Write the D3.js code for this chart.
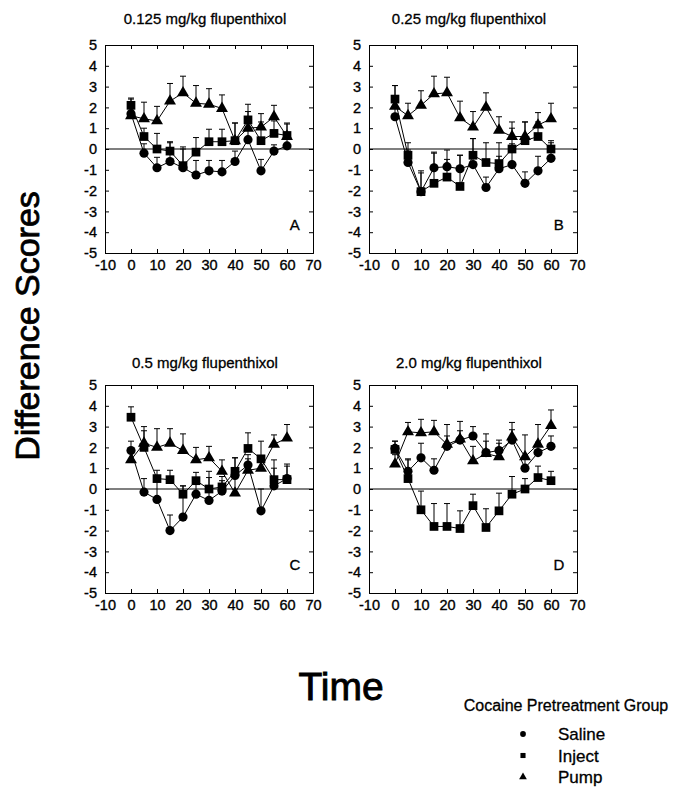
<!DOCTYPE html>
<meta charset="utf-8">
<style>
body { margin: 0; background: #fff; }
svg text { font-family: "Liberation Sans", Arial, sans-serif; fill: #000; }
.axis path, .axis line { stroke: #000; stroke-width: 1px; }
.axis text { font-size: 14.5px; stroke: #000; stroke-width: 0.35px; }
.series path.line { fill: none; stroke: #000; stroke-width: 1px; }
.err { stroke: #000; stroke-width: 1px; }
.heavy { stroke: #000; stroke-width: 0.3px; }
</style>
<body>
<svg width="686" height="793"></svg>
<script src="https://cdn.jsdelivr.net/npm/d3@7"></script>
<script>

// time points (min)
let times = [0, 5, 10, 15, 20, 25, 30, 35, 40, 45, 50, 55, 60];
let xTicks = [-10, 0, 10, 20, 30, 40, 50, 60, 70];
let yTicks = [-5, -4, -3, -2, -1, 0, 1, 2, 3, 4, 5];

let panelTitles = ["0.125 mg/kg flupenthixol", "0.25 mg/kg flupenthixol",
                   "0.5 mg/kg flupenthixol", "2.0 mg/kg flupenthixol"];
let panelLetters = ["A", "B", "C", "D"];
let groupNames = ["Saline", "Inject", "Pump"];

// panel A
let salineA = [1.7, -0.2, -0.9, -0.6, -0.9, -1.25, -1.05, -1.1, -0.6, 0.45, -1.05, -0.1, 0.15];
let salineErrA = [0.3, 0.45, 0.5, 0.9, 0.9, 0.7, 0.5, 0.55, 0.5, 0.5, 0.55, 0.3, 0.6];
let injectA = [2.1, 0.6, 0.0, -0.1, -0.8, -0.15, 0.35, 0.35, 0.4, 1.4, 0.4, 0.75, 0.65];
let injectErrA = [0.35, 0.4, 0.75, 0.45, 0.9, 0.7, 0.6, 0.6, 0.85, 0.75, 0.9, 0.6, 0.6];
let pumpA = [1.6, 1.45, 1.35, 2.3, 2.7, 2.2, 2.15, 1.95, 0.4, 1.0, 1.05, 1.55, 0.6];
let pumpErrA = [0.8, 0.8, 0.7, 0.85, 0.8, 0.85, 0.75, 0.65, 0.85, 0.8, 0.65, 0.55, 0.6];

// panel B
let salineB = [1.55, -0.65, -2.05, -0.9, -0.85, -0.95, -0.75, -1.85, -0.95, -0.75, -1.65, -1.05, -0.45];
let salineErrB = [0.5, 0.6, 1.0, 0.75, 0.8, 0.65, 1.25, 0.5, 0.6, 1.0, 0.55, 0.7, 0.75];
let injectB = [2.4, -0.3, -2.05, -1.65, -1.35, -1.8, -0.3, -0.65, -0.7, 0.0, 0.4, 0.6, 0.0];
let injectErrB = [0.65, 0.6, 0.9, 1.45, 0.85, 1.5, 0.8, 0.95, 1.0, 1.0, 0.9, 0.7, 0.4];
let pumpB = [2.05, 1.6, 2.1, 2.65, 2.7, 1.5, 1.05, 2.0, 0.9, 0.6, 0.6, 1.15, 1.45];
let pumpErrB = [1.0, 0.6, 0.7, 0.85, 0.75, 0.8, 0.75, 0.7, 0.65, 0.7, 0.7, 0.6, 0.75];

// panel C
let salineC = [1.85, -0.15, -0.5, -2.0, -1.35, -0.25, -0.55, -0.1, 0.65, 1.15, -1.05, 0.15, 0.5];
let salineErrC = [0.45, 0.65, 0.9, 0.75, 1.5, 0.65, 1.1, 0.5, 0.85, 0.5, 1.05, 0.85, 0.6];
let injectC = [3.45, 2.0, 0.5, 0.45, -0.25, 0.4, 0.0, 0.1, 0.85, 1.95, 1.45, 0.45, 0.45];
let injectErrC = [0.5, 0.8, 0.4, 0.45, 0.4, 0.4, 0.85, 0.5, 0.65, 0.75, 0.85, 0.95, 0.75];
let pumpC = [1.4, 2.2, 2.0, 2.2, 1.85, 1.4, 1.5, 0.85, -0.2, 0.9, 1.0, 2.15, 2.45];
let pumpErrC = [0.4, 0.8, 0.9, 0.7, 0.8, 0.6, 0.55, 0.55, 0.7, 0.55, 0.6, 0.45, 0.65];

// panel D
let salineD = [1.95, 0.85, 1.5, 0.9, 2.05, 2.35, 2.55, 1.75, 1.85, 2.35, 1.0, 1.75, 2.05];
let salineErrD = [0.35, 0.6, 0.7, 0.55, 0.5, 0.45, 0.45, 0.55, 0.5, 0.5, 0.6, 0.5, 0.5];
let injectD = [1.9, 0.5, -1.0, -1.8, -1.8, -1.9, -0.8, -1.85, -1.05, -0.25, 0.0, 0.55, 0.4];
let injectErrD = [0.4, 0.9, 0.9, 1.1, 1.1, 0.85, 0.55, 0.9, 0.85, 0.85, 0.5, 0.55, 0.45];
let pumpD = [1.2, 2.75, 2.7, 2.75, 2.15, 2.4, 1.35, 1.7, 1.55, 2.5, 1.55, 2.15, 3.05];
let pumpErrD = [0.45, 0.45, 0.65, 0.55, 0.95, 0.85, 0.7, 0.95, 0.65, 0.7, 1.05, 0.95, 0.75];

let panels = [
  [[salineA, salineErrA], [injectA, injectErrA], [pumpA, pumpErrA]],
  [[salineB, salineErrB], [injectB, injectErrB], [pumpB, pumpErrB]],
  [[salineC, salineErrC], [injectC, injectErrC], [pumpC, pumpErrC]],
  [[salineD, salineErrD], [injectD, injectErrD], [pumpD, pumpErrD]]
];

let symbolTypes = [d3.symbolCircle, d3.symbolSquare, d3.symbolTriangle];
let symbolSizes = [66, 76, 62];

let svg = d3.select("svg");
let W = 208, H = 208;
let lefts = [105, 369], tops = [45, 385];
let plain = function(d) { return String(d); };   // keep ascii hyphen minus

panels.forEach(function(series, i) {
  let g = svg.append("g")
    .attr("transform", "translate(" + lefts[i % 2] + "," + tops[Math.floor(i / 2)] + ")");

  let x = d3.scaleLinear().domain([-10, 70]).range([0, W]);
  let y = d3.scaleLinear().domain([-5, 5]).range([H, 0]);

  // axes, ticks point inward
  g.append("g").attr("class", "axis")
    .attr("transform", "translate(0," + H + ")")
    .call(d3.axisBottom(x).tickValues(xTicks).tickSize(-4).tickPadding(7).tickFormat(plain));
  g.append("g").attr("class", "axis")
    .call(d3.axisTop(x).tickValues(xTicks).tickSize(-4).tickFormat(""));
  g.append("g").attr("class", "axis")
    .call(d3.axisLeft(y).tickValues(yTicks).tickSize(-4).tickPadding(8).tickFormat(plain));
  g.append("g").attr("class", "axis")
    .attr("transform", "translate(" + W + ",0)")
    .call(d3.axisRight(y).tickValues(yTicks).tickSize(-4).tickFormat(""));

  // zero line
  g.append("line")
    .attr("x1", 0).attr("x2", W)
    .attr("y1", y(0)).attr("y2", y(0))
    .attr("stroke", "#000").attr("stroke-width", 1.2);

  svg.append("text")
    .attr("class", "heavy")
    .attr("x", lefts[i % 2] + W / 2 - 4)
    .attr("y", tops[Math.floor(i / 2)] - (i < 2 ? 21 : 17))
    .attr("text-anchor", "middle")
    .style("font-size", "15px")
    .text(panelTitles[i]);

  g.append("text")
    .attr("class", "heavy")
    .attr("x", x(63)).attr("y", y(-3.9))
    .attr("text-anchor", "middle")
    .style("font-size", "15px")
    .text(panelLetters[i]);

  let line = d3.line()
    .x(function(d) { return x(d[0]); })
    .y(function(d) { return y(d[1]); });

  series.forEach(function(s, k) {
    let pts = times.map(function(t, j) { return [t, s[0][j], s[1][j]]; });
    let sg = g.append("g").attr("class", "series");

    sg.append("path").attr("class", "line").attr("d", line(pts));

    // upward error bars
    sg.selectAll("line.v").data(pts).enter().append("line")
      .attr("class", "err")
      .attr("x1", function(d) { return x(d[0]); })
      .attr("x2", function(d) { return x(d[0]); })
      .attr("y1", function(d) { return y(d[1]); })
      .attr("y2", function(d) { return y(d[1] + d[2]); });
    sg.selectAll("line.cap").data(pts).enter().append("line")
      .attr("class", "err")
      .attr("x1", function(d) { return x(d[0]) - 3; })
      .attr("x2", function(d) { return x(d[0]) + 3; })
      .attr("y1", function(d) { return y(d[1] + d[2]); })
      .attr("y2", function(d) { return y(d[1] + d[2]); });

    sg.selectAll("path.mk").data(pts).enter().append("path")
      .attr("class", "mk")
      .attr("transform", function(d) { return "translate(" + x(d[0]) + "," + y(d[1]) + ")"; })
      .attr("d", d3.symbol().type(symbolTypes[k]).size(symbolSizes[k]))
      .attr("fill", "#000");
  });
});

// axis titles
svg.append("text")
  .attr("class", "heavy")
  .attr("transform", "translate(39,326) rotate(-90)")
  .attr("text-anchor", "middle")
  .style("font-size", "34px")
  .style("stroke-width", "0.8px")
  .text("Difference Scores");

svg.append("text")
  .attr("class", "heavy")
  .attr("x", 341).attr("y", 700)
  .attr("text-anchor", "middle")
  .style("font-size", "39px")
  .style("stroke-width", "0.9px")
  .text("Time");

// legend
let legend = svg.append("g");
legend.append("text")
  .attr("class", "heavy")
  .attr("x", 566).attr("y", 711)
  .attr("text-anchor", "middle")
  .style("font-size", "16px")
  .text("Cocaine Pretreatment Group");

groupNames.forEach(function(name, k) {
  let yy = 734 + k * 21.5;
  legend.append("path")
    .attr("transform", "translate(523," + yy + ")")
    .attr("d", d3.symbol().type(symbolTypes[k]).size(26))
    .attr("fill", "#000");
  legend.append("text")
    .attr("class", "heavy")
    .attr("x", 558).attr("y", yy + 6)
    .style("font-size", "17px")
    .text(name);
});

</script>
</body>
